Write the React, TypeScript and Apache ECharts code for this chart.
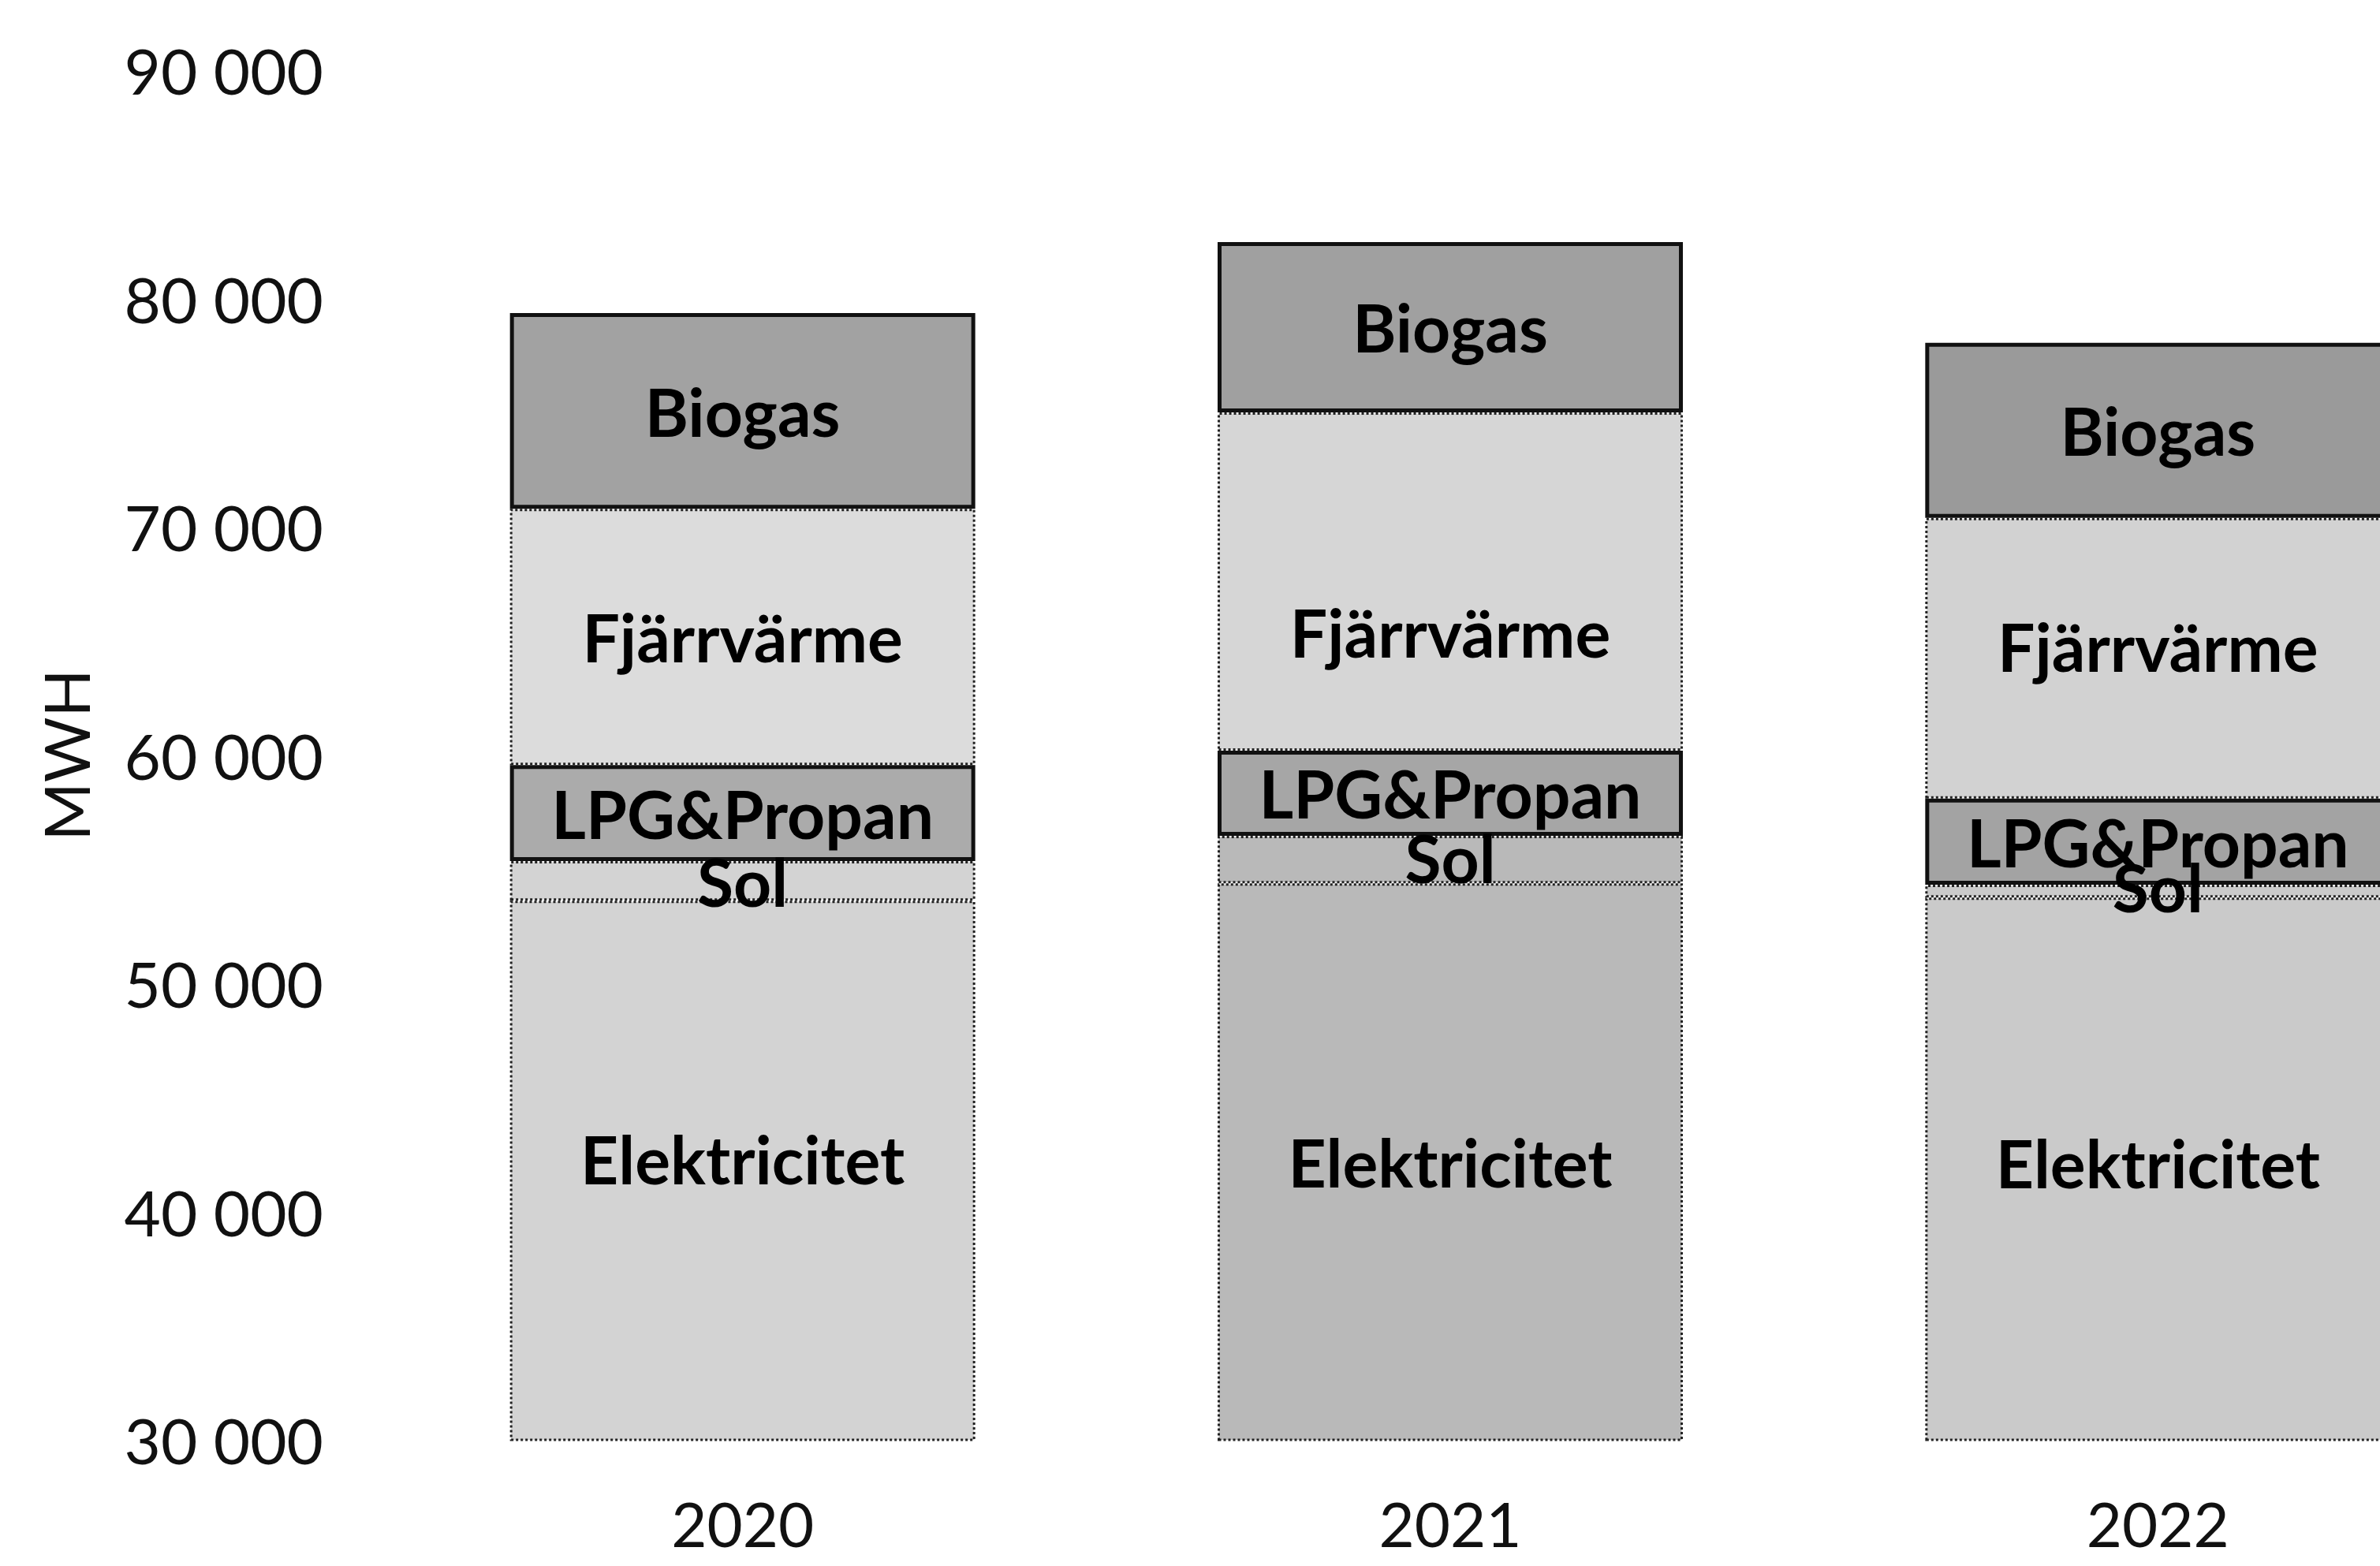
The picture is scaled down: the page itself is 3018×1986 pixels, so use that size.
import React, { useEffect, useRef } from "react";
import * as echarts from "echarts";

// ---- data (MWh) ----
const categories = ["2020", "2021", "2022"];
const elektricitet = [53620, 54380, 53760];
const sol = [1730, 2080, 560];
const lpgPropan = [4210, 3730, 3770];
const fjarrvarme = [11230, 14820, 12300];
const biogas = [8570, 7460, 7670];
const seriesNames = ["Elektricitet", "Sol", "LPG&Propan", "Fjärrvärme", "Biogas"];
const yMin = 30000;
const yMax = 90000;
const yStep = 10000;
const yAxisName = "MWH";

// ---- styles ----
const elColors = ["#d3d3d3", "#b9b9b9", "#cacaca"];
const lpgColors = ["#ababab", "#a6a6a6", "#a3a3a3"];
const fjColors = ["#dcdcdc", "#d6d6d6", "#d2d2d2"];
const bioColors = ["#a2a2a2", "#a0a0a0", "#9a9a9a"];
// label nudges (px) to follow the reference's manual label placement
const elLabelDy = [-15, 0, -8];
const solLabelDy = [0, -3, -6];
const lpgLabelDy = [0, 0, 0];
const fjLabelDy = [0, 64, -15];
const bioLabelDy = [0, 0, 0];

const FONT = "Lato";

function fmt(v: number): string {
  return Math.round(v)
    .toString()
    .replace(/\B(?=(\d{3})+(?!\d))/g, " ");
}

function makeSeries(
  name: string,
  values: number[],
  colors: string[],
  labelDy: number[],
  borderWidth: number,
  borderType: string,
  borderColor: string
) {
  return {
    name,
    type: "bar",
    stack: "total",
    barWidth: 590,
    clip: true,
    data: values.map((v, i) => ({
      value: v,
      itemStyle: { color: colors[i] },
      label: { offset: [0, labelDy[i]] },
    })),
    itemStyle: { borderColor, borderWidth, borderType },
    label: {
      show: true,
      position: "inside",
      formatter: "{a}",
      fontFamily: FONT,
      fontWeight: "bold",
      fontSize: 84,
      lineHeight: 84,
      color: "#000",
    },
    emphasis: { disabled: true },
  };
}

export default function App() {
  const ref = useRef<HTMLDivElement>(null);

  useEffect(() => {
    if (!ref.current) return;
    const chart = echarts.init(ref.current, undefined, { renderer: "svg" });
    chart.setOption({
      animation: false,
      backgroundColor: "#ffffff",
      grid: { left: 493, right: 115, top: 89, bottom: 160, containLabel: false },
      xAxis: {
        type: "category",
        data: categories,
        axisLine: { show: false },
        axisTick: { show: false },
        axisLabel: {
          fontFamily: FONT,
          fontSize: 78,
          lineHeight: 60,
          color: "#111",
          margin: 76,
        },
      },
      yAxis: {
        type: "value",
        min: yMin,
        max: yMax,
        interval: yStep,
        splitLine: { show: false },
        axisLine: { show: false },
        axisTick: { show: false },
        axisLabel: {
          fontFamily: FONT,
          fontSize: 80,
          color: "#111",
          margin: 83,
          formatter: (v: number) => fmt(v),
        },
        name: yAxisName,
        nameLocation: "middle",
        nameRotate: 90,
        nameGap: 370,
        nameTextStyle: { fontFamily: FONT, fontSize: 80, color: "#111" },
      },
      series: [
        makeSeries(seriesNames[0], elektricitet, elColors, elLabelDy, 3, "dotted", "#222"),
        makeSeries(seriesNames[1], sol, elColors, solLabelDy, 3, "dotted", "#222"),
        makeSeries(seriesNames[2], lpgPropan, lpgColors, lpgLabelDy, 5, "solid", "#111"),
        makeSeries(seriesNames[3], fjarrvarme, fjColors, fjLabelDy, 3, "dotted", "#222"),
        makeSeries(seriesNames[4], biogas, bioColors, bioLabelDy, 5, "solid", "#111"),
      ],
    });
    return () => chart.dispose();
  }, []);

  return (
    <div
      style={{
        position: "fixed",
        left: 0,
        top: 0,
        width: 3018,
        height: 1986,
        overflow: "hidden",
        background: "#fff",
      }}
    >
      <div ref={ref} style={{ width: 3300, height: 1986 }} />
    </div>
  );
}
